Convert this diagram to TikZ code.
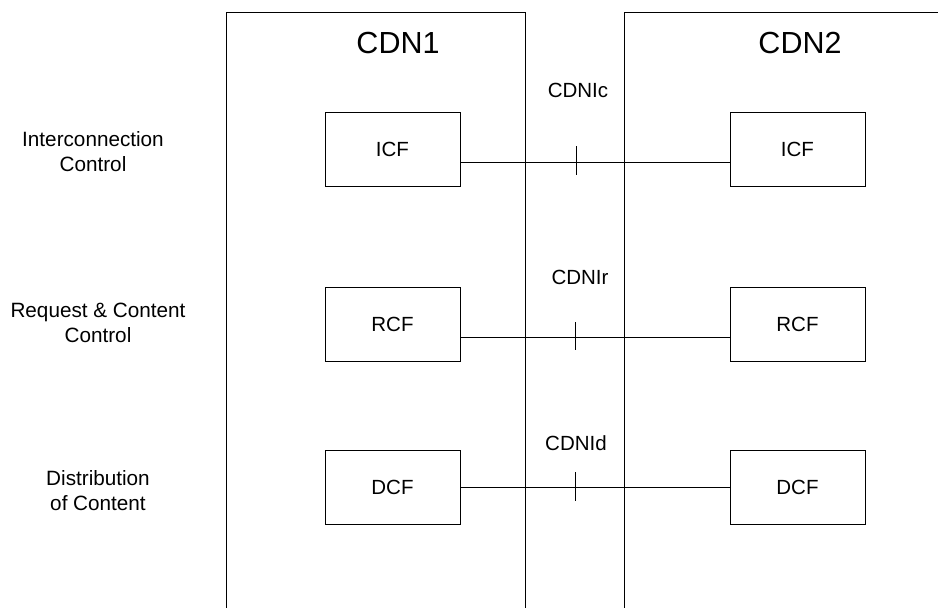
\documentclass[tikz,border=0pt]{standalone}
\usepackage{fontspec}
\setmainfont{Liberation Sans}
\begin{document}
\begin{tikzpicture}[x=1pt,y=-1pt,
  line width=0.9pt,
  fn/.style={draw, minimum width=135pt, minimum height=74pt, inner sep=0pt,
             font=\fontsize{20.5}{24}\selectfont},
  title/.style={font=\fontsize{30.5}{34}\selectfont},
  iflabel/.style={font=\fontsize{20.5}{24}\selectfont},
  layer/.style={align=center, font=\fontsize{20.7}{25}\selectfont},
  tick/.style={line width=0.9pt}]
\useasboundingbox (0,0) rectangle (938,608);

% the two CDN domains (open at the bottom, CDN2 runs past the right edge)
\draw (226,608) -- (226,12) -- (525,12) -- (525,608);
\draw (624,608) -- (624,12) -- (938,12);
\node[title] (cdn1) at (398,43) {CDN1};
\node[title] (cdn2) at (800,43) {CDN2};

% layer captions
\node[layer] (lic) at (93,152) {Interconnection\\Control};
\node[layer] (lrc) at (98,323) {Request \& Content\\Control};
\node[layer] (ldc) at (98,491) {Distribution\\of Content};

% functions in each CDN
\node[fn] (icf1) at (392.5,149) {ICF};
\node[fn] (icf2) at (797.5,149) {ICF};
\node[fn] (rcf1) at (392.5,324.5) {RCF};
\node[fn] (rcf2) at (797.5,324.5) {RCF};
\node[fn] (dcf1) at (392.5,487.5) {DCF};
\node[fn] (dcf2) at (797.5,487.5) {DCF};

% interface labels
\node[iflabel] (cdnic) at (578,90) {CDNIc};
\node[iflabel] (cdnir) at (580,277) {CDNIr};
\node[iflabel] (cdnid) at (576,443) {CDNId};

% interfaces between peer functions (yshift is in page units: negative = down)
\draw ([yshift=-13pt]icf1.east) -- ([yshift=-13pt]icf2.west);
\draw ([yshift=-12.5pt]rcf1.east) -- ([yshift=-12.5pt]rcf2.west);
\draw (dcf1.east) -- (dcf2.west);

% reference-point ticks
\coordinate (tic) at (576,162);
\coordinate (tir) at (575,337);
\coordinate (tid) at (575,487);
\draw[tick] ([yshift=16pt]tic) -- ([yshift=-13pt]tic);
\draw[tick] ([yshift=15pt]tir) -- ([yshift=-13pt]tir);
\draw[tick] ([yshift=15pt]tid) -- ([yshift=-14pt]tid);
\end{tikzpicture}
\end{document}
